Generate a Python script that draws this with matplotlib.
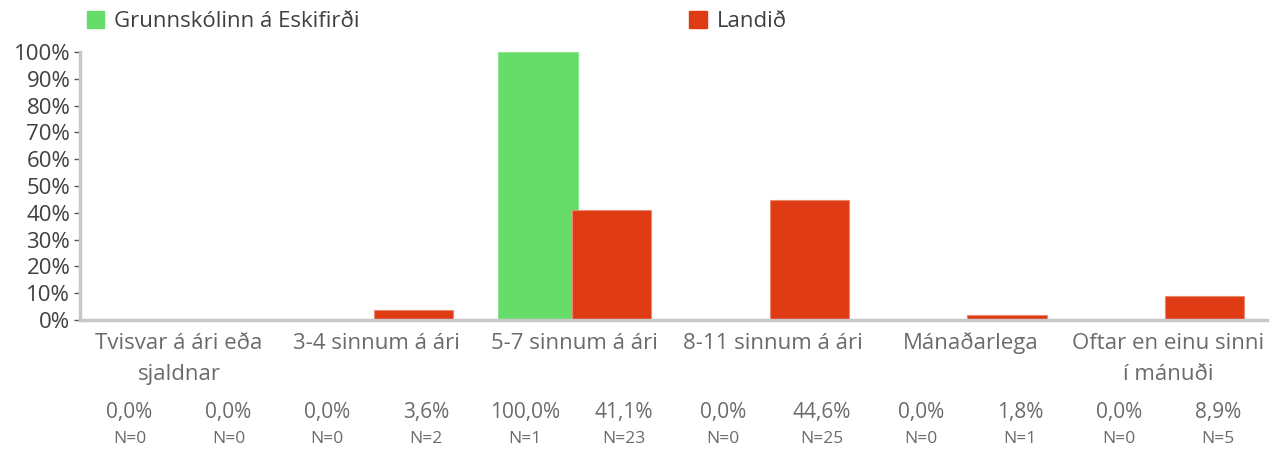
import matplotlib.pyplot as plt
import matplotlib.transforms as mtransforms
from matplotlib.patches import Patch
import numpy as np

plt.rcParams["font.family"] = ["Open Sans", "DejaVu Sans"]

categories = [
    "Tvisvar á ári eða\nsjaldnar",
    "3-4 sinnum á ári",
    "5-7 sinnum á ári",
    "8-11 sinnum á ári",
    "Mánaðarlega",
    "Oftar en einu sinni\ní mánuði",
]
school_pct = [0.0, 0.0, 100.0, 0.0, 0.0, 0.0]
school_n = [0, 0, 1, 0, 0, 0]
country_pct = [0.0, 3.6, 41.1, 44.6, 1.8, 8.9]
country_n = [0, 2, 23, 25, 1, 5]
series_names = ["Grunnskólinn á Eskifirði", "Landið"]
yticks = [0, 10, 20, 30, 40, 50, 60, 70, 80, 90, 100]

GREEN = "#66DC6A"
RED = "#DE3A13"
GREY_TXT = "#6b6b6b"

fig = plt.figure(figsize=(12.8, 4.55), dpi=100)
ax = fig.add_axes([0.0625, 0.2967, 0.9275, 0.589])

x = np.arange(len(categories))
width = 0.40
off = 0.185
ax.bar(x - off, school_pct, width, color=GREEN, edgecolor="#8be88e", linewidth=0.8)
ax.bar(x + off, country_pct, width, color=RED, edgecolor="#ec8a70", linewidth=0.8)

ax.set_xlim(-0.5, len(categories) - 0.5)
ax.set_ylim(0, 100)
ax.set_yticks(yticks)
ax.set_yticklabels([f"{t}%" for t in yticks], fontsize=16, color="#404040")
ax.set_xticks(x)
ax.set_xticklabels(categories, fontsize=16, color=GREY_TXT, linespacing=1.68)
ax.tick_params(axis="x", length=0, pad=9)
ax.tick_params(axis="y", length=4, width=1, color="#555555", pad=3)

for side in ["top", "right"]:
    ax.spines[side].set_visible(False)
ax.spines["left"].set_color("#c8c8c8")
ax.spines["left"].set_linewidth(2.5)
ax.spines["bottom"].set_color("#c8c8c8")
ax.spines["bottom"].set_linewidth(2.5)

# value labels under the category names
trans = mtransforms.blended_transform_factory(ax.transData, fig.transFigure)
for i in range(len(categories)):
    for dx, pct, n in [(-0.25, school_pct[i], school_n[i]), (0.25, country_pct[i], country_n[i])]:
        ax.text(i + dx, 0.094, f"{pct:.1f}%".replace(".", ","), transform=trans,
                ha="center", va="center", fontsize=15, color=GREY_TXT)
        ax.text(i + dx, 0.036, f"N={n}", transform=trans,
                ha="center", va="center", fontsize=12.5, color=GREY_TXT)

handles = [Patch(color=GREEN), Patch(color=RED)]
fig.legend(handles, series_names, loc="upper left", bbox_to_anchor=(0.052, 1.02),
           ncol=2, frameon=False, fontsize=16, handlelength=0.8, handleheight=0.8,
           handletextpad=0.45, columnspacing=14.8, labelcolor="#404040")

fig.savefig("out.png", dpi=100)
